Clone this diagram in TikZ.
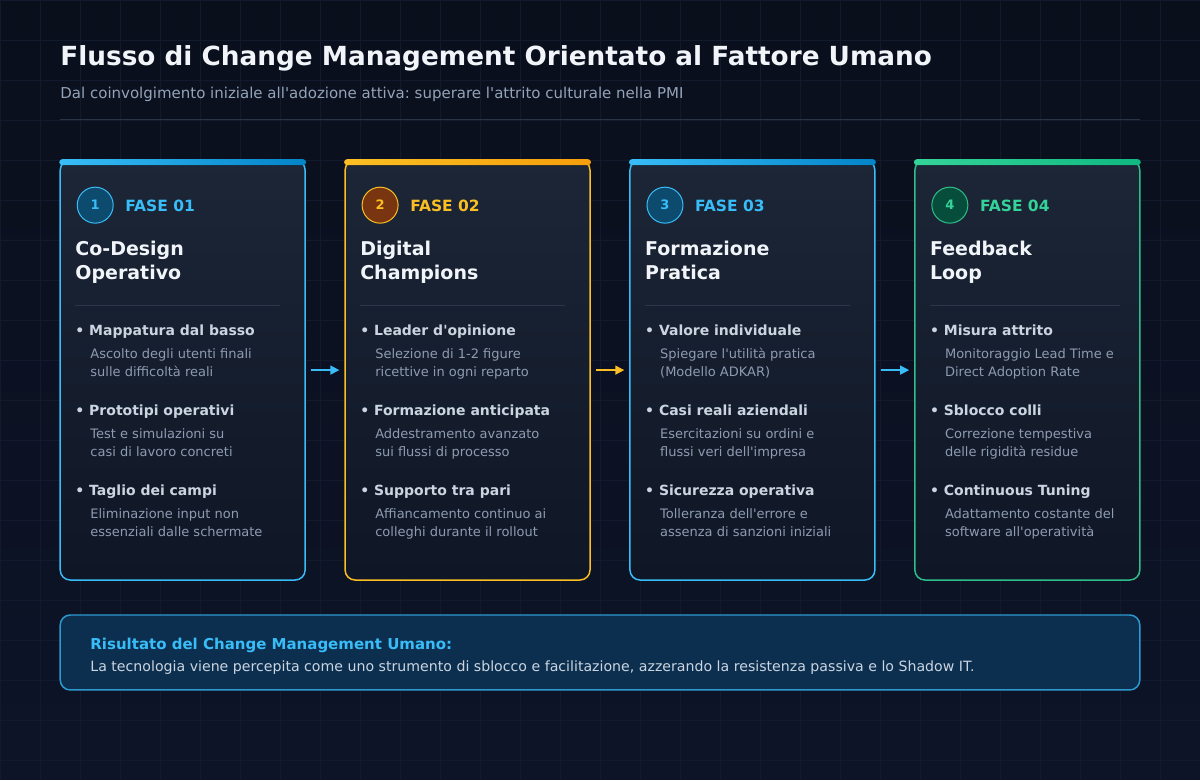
\documentclass[tikz,border=0pt]{standalone}
\usepackage{fontspec}
\setmainfont{DejaVu Sans}
\usetikzlibrary{arrows.meta,calc,positioning}
\frenchspacing

\definecolor{bgtop}{HTML}{0A0F1C}
\definecolor{bgbottom}{HTML}{0D1428}
\definecolor{gridgray}{HTML}{121B2E}
\definecolor{cardtop}{HTML}{1C2636}
\definecolor{cardbottom}{HTML}{0F1626}
\definecolor{sky}{HTML}{38BDF8}
\definecolor{skydeep}{HTML}{0284C7}
\definecolor{skyfill}{HTML}{0C4A6E}
\definecolor{amber}{HTML}{FBBF24}
\definecolor{amberdeep}{HTML}{F59E0B}
\definecolor{amberfill}{HTML}{78350F}
\definecolor{mint}{HTML}{34D399}
\definecolor{mintdeep}{HTML}{10B981}
\definecolor{mintfill}{HTML}{064E3B}
\definecolor{titlewhite}{HTML}{F1F5F9}
\definecolor{subgray}{HTML}{94A3B8}
\definecolor{itemgray}{HTML}{CBD5E1}
\definecolor{descgray}{HTML}{8E9BB0}
\definecolor{sepgray}{HTML}{2A3548}
\definecolor{resultfill}{HTML}{0C2F4F}

\tikzstyle{headline} = [anchor=base west, inner sep=0pt, text=titlewhite, font=\fontsize{26.3}{30}\selectfont\bfseries]
\tikzstyle{subline} = [anchor=base west, inner sep=0pt, text=subgray, font=\fontsize{15}{18}\selectfont]
\tikzstyle{phasecard} = [rectangle, rounded corners=10pt, minimum height=420pt, line width=1.5pt, top color=cardtop, bottom color=cardbottom]
\tikzstyle{phasenum} = [circle, minimum size=36pt, inner sep=0pt, line width=1pt, font=\fontsize{13}{13}\selectfont\bfseries]
\tikzstyle{phaselabel} = [anchor=base west, inner sep=0pt, font=\fontsize{15.5}{18}\selectfont\bfseries]
\tikzstyle{phasetitle} = [anchor=base west, inner sep=0pt, text=titlewhite, font=\fontsize{19}{22}\selectfont\bfseries]
\tikzstyle{itemhead} = [anchor=base west, inner sep=0pt, text=itemgray, font=\fontsize{14}{16}\selectfont\bfseries]
\tikzstyle{itemtext} = [anchor=base west, inner sep=0pt, text=descgray, font=\fontsize{13}{16}\selectfont]
\tikzstyle{separator} = [draw=sepgray, line width=1pt]
\tikzstyle{flowarrow} = [line width=1.5pt, -{Triangle[length=9pt,width=9pt]}, shorten <=5pt, shorten >=5pt]
\tikzstyle{resultbox} = [rectangle, rounded corners=10pt, minimum width=1080pt, minimum height=75pt, fill=resultfill, draw=sky!75!resultfill, line width=1.5pt]

\begin{document}
\begin{tikzpicture}[x=1pt, y=-1pt]

% background
\fill [top color=bgtop, bottom color=bgbottom] (0,0) rectangle (1200,780);
\draw [gridgray, line width=0.5pt, step=40pt] (0,780) grid (1200,0);
\useasboundingbox (0,0) rectangle (1200,780);

\node (title) [headline] at (60,65) {Flusso di Change Management Orientato al Fattore Umano};
\node (subtitle) [subline] at (60,98) {Dal coinvolgimento iniziale all\textquotesingle adozione attiva: superare l\textquotesingle attrito culturale nella PMI};
\draw [separator] (60,119) -- (1140,119);

% cards
\node (card1) [phasecard, draw=sky, minimum width=245pt] at (182.5,370) {};
\node (card2) [phasecard, draw=amber, minimum width=245pt] at (467.5,370) {};
\node (card3) [phasecard, draw=sky, minimum width=245pt] at (752.5,370) {};
\node (card4) [phasecard, draw=mint!90!black, minimum width=225pt] at (1027.5,370) {};
\fill [left color=sky, right color=skydeep, rounded corners=3pt] (59,159) rectangle (306,165);
\fill [left color=amber, right color=amberdeep, rounded corners=3pt] (344,159) rectangle (591,165);
\fill [left color=sky, right color=skydeep, rounded corners=3pt] (629,159) rectangle (876,165);
\fill [left color=mint, right color=mintdeep, rounded corners=3pt] (914,159) rectangle (1141,165);

\draw [flowarrow, sky] (card1) -- (card2);
\draw [flowarrow, amber] (card2) -- (card3);
\draw [flowarrow, sky] (card3) -- (card4);

% fase 01
\node (num1) [phasenum, draw=sky, fill=skyfill, text=sky] at (95,205) {1};
\node (fase1) [phaselabel, text=sky] at (125,211) {FASE 01};
\node (name1a) [phasetitle] at (75,255) {Co-Design};
\node (name1b) [phasetitle] at (75,279) {Operativo};
\draw [separator] (75,305) -- (280,305);
\node (item1a) [itemhead] at (75,335) {• Mappatura dal basso};
\node (text1a) [itemtext] at (90,358) {Ascolto degli utenti finali};
\node (text1b) [itemtext] at (90,376) {sulle difficoltà reali};
\node (item1b) [itemhead] at (75,415) {• Prototipi operativi};
\node (text1c) [itemtext] at (90,438) {Test e simulazioni su};
\node (text1d) [itemtext] at (90,456) {casi di lavoro concreti};
\node (item1c) [itemhead] at (75,495) {• Taglio dei campi};
\node (text1e) [itemtext] at (90,518) {Eliminazione input non};
\node (text1f) [itemtext] at (90,536) {essenziali dalle schermate};
%
% fase 02
\node (num2) [phasenum, draw=amber, fill=amberfill, text=amber] at (380,205) {2};
\node (fase2) [phaselabel, text=amber] at (410,211) {FASE 02};
\node (name2a) [phasetitle] at (360,255) {Digital};
\node (name2b) [phasetitle] at (360,279) {Champions};
\draw [separator] (360,305) -- (565,305);
\node (item2a) [itemhead] at (360,335) {• Leader d\textquotesingle opinione};
\node (text2a) [itemtext] at (375,358) {Selezione di 1-2 figure};
\node (text2b) [itemtext] at (375,376) {ricettive in ogni reparto};
\node (item2b) [itemhead] at (360,415) {• Formazione anticipata};
\node (text2c) [itemtext] at (375,438) {Addestramento avanzato};
\node (text2d) [itemtext] at (375,456) {sui flussi di processo};
\node (item2c) [itemhead] at (360,495) {• Supporto tra pari};
\node (text2e) [itemtext] at (375,518) {Affiancamento continuo ai};
\node (text2f) [itemtext] at (375,536) {colleghi durante il rollout};
%
% fase 03
\node (num3) [phasenum, draw=sky, fill=skyfill, text=sky] at (665,205) {3};
\node (fase3) [phaselabel, text=sky] at (695,211) {FASE 03};
\node (name3a) [phasetitle] at (645,255) {Formazione};
\node (name3b) [phasetitle] at (645,279) {Pratica};
\draw [separator] (645,305) -- (850,305);
\node (item3a) [itemhead] at (645,335) {• Valore individuale};
\node (text3a) [itemtext] at (660,358) {Spiegare l\textquotesingle utilità pratica};
\node (text3b) [itemtext] at (660,376) {(Modello ADKAR)};
\node (item3b) [itemhead] at (645,415) {• Casi reali aziendali};
\node (text3c) [itemtext] at (660,438) {Esercitazioni su ordini e};
\node (text3d) [itemtext] at (660,456) {flussi veri dell\textquotesingle impresa};
\node (item3c) [itemhead] at (645,495) {• Sicurezza operativa};
\node (text3e) [itemtext] at (660,518) {Tolleranza dell\textquotesingle errore e};
\node (text3f) [itemtext] at (660,536) {assenza di sanzioni iniziali};
%
% fase 04
\node (num4) [phasenum, draw=mint!90!black, fill=mintfill, text=mint] at (950,205) {4};
\node (fase4) [phaselabel, text=mint] at (980,211) {FASE 04};
\node (name4a) [phasetitle] at (930,255) {Feedback};
\node (name4b) [phasetitle] at (930,279) {Loop};
\draw [separator] (930,305) -- (1120,305);
\node (item4a) [itemhead] at (930,335) {• Misura attrito};
\node (text4a) [itemtext] at (945,358) {Monitoraggio Lead Time e};
\node (text4b) [itemtext] at (945,376) {Direct Adoption Rate};
\node (item4b) [itemhead] at (930,415) {• Sblocco colli};
\node (text4c) [itemtext] at (945,438) {Correzione tempestiva};
\node (text4d) [itemtext] at (945,456) {delle rigidità residue};
\node (item4c) [itemhead] at (930,495) {• Continuous Tuning};
\node (text4e) [itemtext] at (945,518) {Adattamento costante del};
\node (text4f) [itemtext] at (945,536) {software all\textquotesingle operatività};

% result
\node (result) [resultbox] at (600,652.5) {};
\node (resulthead) [anchor=base west, inner sep=0pt, text=sky, font=\fontsize{15}{18}\selectfont\bfseries] at (90,650) {Risultato del Change Management Umano:};
\node (resulttext) [anchor=base west, inner sep=0pt, text=itemgray, font=\fontsize{14.15}{17}\selectfont] at (90,672) {La tecnologia viene percepita come uno strumento di sblocco e facilitazione, azzerando la resistenza passiva e lo Shadow IT.};

\end{tikzpicture}
\end{document}
